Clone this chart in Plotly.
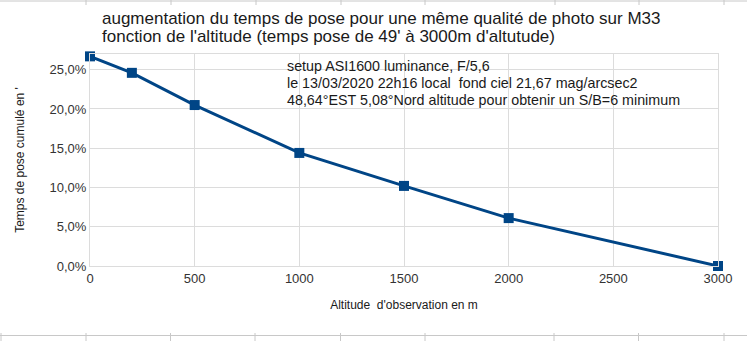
import plotly.graph_objects as go

# Altitude (m) and cumulative exposure-time increase (fraction)
altitudes = [0, 200, 500, 1000, 1500, 2000, 3000]
increase = [0.267, 0.246, 0.205, 0.144, 0.102, 0.061, 0.0]

title_lines = [
    "augmentation du temps de pose pour une même qualité de photo sur M33",
    "fonction de l'altitude (temps pose de 49' à 3000m d'altutude)",
]
note_lines = [
    "setup ASI1600 luminance, F/5,6",
    "le 13/03/2020 22h16 local  fond ciel 21,67 mag/arcsec2",
    "48,64°EST 5,08°Nord altitude pour obtenir un S/B=6 minimum",
]

W, H = 747, 341
L, R, T, B = 90, 29, 54, 75
pw, ph = W - L - R, H - T - B

def px(x):
    return (x - L) / pw

def py(y):
    return (H - B - y) / ph

fig = go.Figure()
fig.add_trace(go.Scatter(
    x=altitudes, y=increase, mode="lines+markers",
    line=dict(color="#004586", width=3),
    marker=dict(symbol="square", size=10, color="#004586"),
    cliponaxis=False, showlegend=False,
))

grid = "#dcdcdc"
fig.update_layout(
    width=W, height=H,
    margin=dict(l=L, r=R, t=T, b=B),
    paper_bgcolor="white", plot_bgcolor="white",
    separators=", ",
    font=dict(family="Liberation Sans, Arial, sans-serif", color="#333333"),
    xaxis=dict(
        range=[0, 3000], tickvals=[0, 500, 1000, 1500, 2000, 2500, 3000],
        showgrid=True, gridcolor=grid, gridwidth=1,
        showline=True, linecolor=grid, mirror=True, zeroline=False,
        ticks="", tickfont=dict(size=13, color="#333333"),
        title=dict(text="Altitude  d'observation en m", standoff=16,
                   font=dict(size=12, family="Liberation Sans, Arial", color="#1a1a1a")),
    ),
    yaxis=dict(
        range=[0, 0.27], dtick=0.05, tickformat=".1%",
        showgrid=True, gridcolor=grid, gridwidth=1,
        showline=True, linecolor=grid, mirror=True, zeroline=False,
        ticks="", tickfont=dict(size=13, color="#333333"),
        title=dict(text="Temps de pose cumulé en '", standoff=22,
                   font=dict(size=12, family="Liberation Sans, Arial", color="#1a1a1a")),
    ),
)

# two-line heading, one annotation per line for tighter leading
for line, yc in zip(title_lines, [18, 37]):
    fig.add_annotation(
        text=line, xref="paper", yref="paper",
        x=px(100), y=py(yc), xanchor="left", yanchor="middle", align="left",
        showarrow=False,
        font=dict(size=17, family="Liberation Sans, Arial", color="#1a1a1a"),
    )

# set-up notes inside the plot area
for line, yc in zip(note_lines, [66, 83, 99.5]):
    fig.add_annotation(
        text=line, xref="paper", yref="paper",
        x=px(285), y=py(yc), xanchor="left", yanchor="middle", align="left",
        showarrow=False,
        font=dict(size=14.3, family="Liberation Sans, Arial", color="#1a1a1a"),
    )

# spreadsheet cell borders around the chart
cell = "#c8c8c8"
shapes = []
shapes.append(dict(type="line", xref="paper", yref="paper",
                   x0=px(0), x1=px(W), y0=py(1), y1=py(1), line=dict(color=cell, width=1)))
for xv in [86, 171, 256, 341, 425, 555, 639, 724]:
    shapes.append(dict(type="line", xref="paper", yref="paper",
                       x0=px(xv), x1=px(xv), y0=py(0), y1=py(5), line=dict(color=cell, width=1)))
shapes.append(dict(type="line", xref="paper", yref="paper",
                   x0=px(0), x1=px(W), y0=py(335.5), y1=py(335.5), line=dict(color=cell, width=1)))
for xv in [1, 86, 170.5, 255, 340.5, 425, 554, 638.5, 724]:
    shapes.append(dict(type="line", xref="paper", yref="paper",
                       x0=px(xv), x1=px(xv), y0=py(333), y1=py(341), line=dict(color=cell, width=1)))
fig.update_layout(shapes=shapes)

fig.write_html("out.html")
